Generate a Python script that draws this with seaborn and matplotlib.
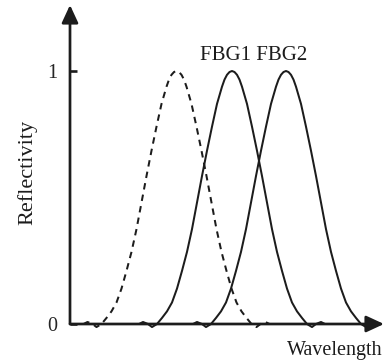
import numpy as np
import pandas as pd
import matplotlib
matplotlib.use("Agg")
import matplotlib.pyplot as plt
import seaborn as sns

# Reflection profile of one grating
# (offset from the peak in arbitrary wavelength units, reflectivity)
offset = [-9.3, -8.9, -8.4, -8.0, -7.5, -7.0, -6.5, -6.0, -5.5, -5.0, -4.5,
          -4.0, -3.5, -3.0, -2.5, -2.0, -1.5, -1.0, -0.75, -0.5, -0.25, 0.0,
          0.25, 0.5, 0.75, 1.0, 1.5, 2.0, 2.5, 3.0, 3.5, 4.0, 4.5, 5.0, 5.5,
          6.0, 6.5, 7.0, 7.5, 8.0, 8.4, 8.9, 9.3]
reflect = [0.0, 0.008, 0.0, -0.012, 0.0, 0.024, 0.05, 0.085, 0.14, 0.21, 0.285,
           0.375, 0.48, 0.585, 0.685, 0.78, 0.87, 0.938, 0.966, 0.985, 0.996, 1.0,
           0.996, 0.985, 0.966, 0.938, 0.87, 0.78, 0.685, 0.585, 0.48, 0.375, 0.285, 0.21, 0.14,
           0.085, 0.05, 0.024, 0.0, -0.012, 0.0, 0.008, 0.0]

# Peak positions of the three spectra
curves = ["shifted", "FBG1", "FBG2"]
centers = [10.65, 16.2, 21.6]

rows = []
for name, c in zip(curves, centers):
    for o, r in zip(offset, reflect):
        rows.append({"wavelength": c + o, "reflectivity": r, "curve": name})
df = pd.DataFrame(rows)

sns.set_style("white")
plt.rcParams["font.family"] = ["Liberation Serif", "DejaVu Serif"]

ink = "#1c1c1c"
fig = plt.figure(figsize=(3.85, 3.62), dpi=100)
ax = fig.add_axes([70 / 385, 32 / 362, 314 / 385, 325 / 362])

sns.lineplot(data=df, x="wavelength", y="reflectivity", style="curve",
             dashes={"shifted": (3.2, 2.6), "FBG1": "", "FBG2": ""},
             color=ink, lw=1.45, estimator=None, sort=False, legend=False, ax=ax)

xmax = 31.4
ax.set_xlim(0, xmax)
ax.set_ylim(-0.0237, 1.2609)
for s in ax.spines.values():
    s.set_visible(False)

# axes with arrow heads
arrow = dict(arrowstyle="-|>,head_length=1.08,head_width=0.5", lw=1.95,
             color=ink, shrinkA=0, shrinkB=0, mutation_scale=10)
ax.annotate("", xy=(0, 1.2609), xytext=(0, 0), arrowprops=arrow, annotation_clip=False)
ax.annotate("", xy=(xmax, 0), xytext=(0, 0), arrowprops=arrow, annotation_clip=False)

ax.set_xticks([])
ax.set_yticks([0, 1])
ax.set_yticklabels(["0", "1"])
ax.tick_params(axis="y", direction="in", length=5, width=1.9, color=ink,
               labelsize=14.5, pad=9, left=True)
ax.set_xlabel("")
ax.set_ylabel("")

fig.text(27 / 385, 1 - 172 / 362, "Reflectivity", rotation=90,
         ha="center", va="center", fontsize=16, color=ink)
fig.text(383 / 385, 1 - 350 / 362, "Wavelength", ha="right", va="center",
         fontsize=14.5, color=ink)
fig.text(254 / 385, 1 - 55 / 362, "FBG1 FBG2", ha="center", va="center",
         fontsize=15, color=ink)

fig.savefig("out.png", dpi=100)
